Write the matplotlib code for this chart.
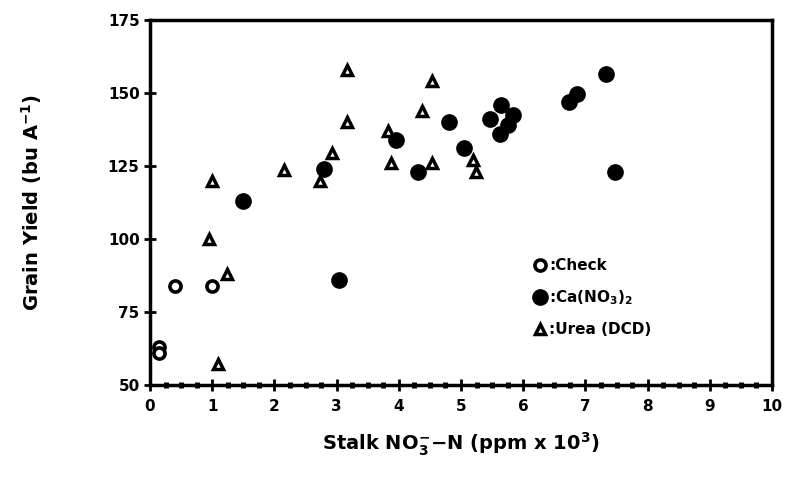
import matplotlib
matplotlib.use("Agg")
import matplotlib.pyplot as plt
from matplotlib.ticker import MultipleLocator

plt.rcParams['font.family'] = ['DejaVu Sans']
plt.rcParams['font.weight'] = 'bold'
plt.rcParams['mathtext.default'] = 'bf'

# Check plots (no N)
check_x = [0.15, 0.15, 0.40, 1.00]
check_y = [63, 61, 84, 84]

# Ca(NO3)2
ca_x = [1.49, 2.79, 3.04, 3.95, 4.31, 4.81, 5.05, 5.46, 5.64, 5.84, 5.62, 5.76, 6.74, 6.86, 7.33, 7.48]
ca_y = [113, 124, 86, 134, 123, 140, 131, 141, 146, 142.5, 136, 139, 147, 149.5, 156.5, 123]

# Urea (DCD)
urea_x = [0.94, 1.00, 1.10, 1.23, 2.15, 2.73, 2.92, 3.17, 3.17, 3.83, 3.87, 4.38, 4.54, 4.53, 5.20, 5.24]
urea_y = [100, 120, 57, 88, 123.5, 120, 129.5, 140, 158, 137, 126, 144, 154, 126, 127, 123]

x_ticks = list(range(0, 11))
y_ticks = [50, 75, 100, 125, 150, 175]

fig = plt.figure(figsize=(7.88, 4.78), dpi=100)
ax = fig.add_axes([0.1904, 0.195, 0.7893, 0.763])

ax.plot(check_x, check_y, 'o', ms=8, mfc='white', mec='black', mew=2.6, ls='none', label=':Check')
ax.plot(ca_x, ca_y, 'o', ms=11, mfc='black', mec='black', ls='none', label=':Ca(NO$_3$)$_2$')
ax.plot(urea_x, urea_y, '^', ms=7, mfc='white', mec='black', mew=2.5, ls='none', label=':Urea (DCD)')

ax.set_xlim(0, 10)
ax.set_ylim(50, 175)
ax.set_xticks(x_ticks)
ax.set_yticks(y_ticks)
ax.xaxis.set_minor_locator(MultipleLocator(0.25))

for s in ax.spines.values():
    s.set_linewidth(2.5)

ax.tick_params(axis='both', which='major', direction='inout', length=9, width=2,
               labelsize=11, pad=3)
ax.tick_params(axis='x', which='major', pad=6)
ax.tick_params(axis='x', which='minor', direction='inout', length=4, width=3.5)
for lbl in ax.get_xticklabels() + ax.get_yticklabels():
    lbl.set_fontweight('bold')

ax.set_xlabel('Stalk NO$_3^{-}$$-$N (ppm x 10$^3$)', fontsize=14, fontweight='bold', labelpad=12)
ax.set_ylabel('Grain Yield (bu A$^{-1}$)', fontsize=14, fontweight='bold', labelpad=46)

leg = ax.legend(loc='upper left', bbox_to_anchor=(0.59, 0.385), frameon=False,
                handletextpad=0.0, handlelength=1.2, labelspacing=1.0,
                prop={'weight': 'bold', 'size': 11})

fig.savefig('out.png', dpi=100)
